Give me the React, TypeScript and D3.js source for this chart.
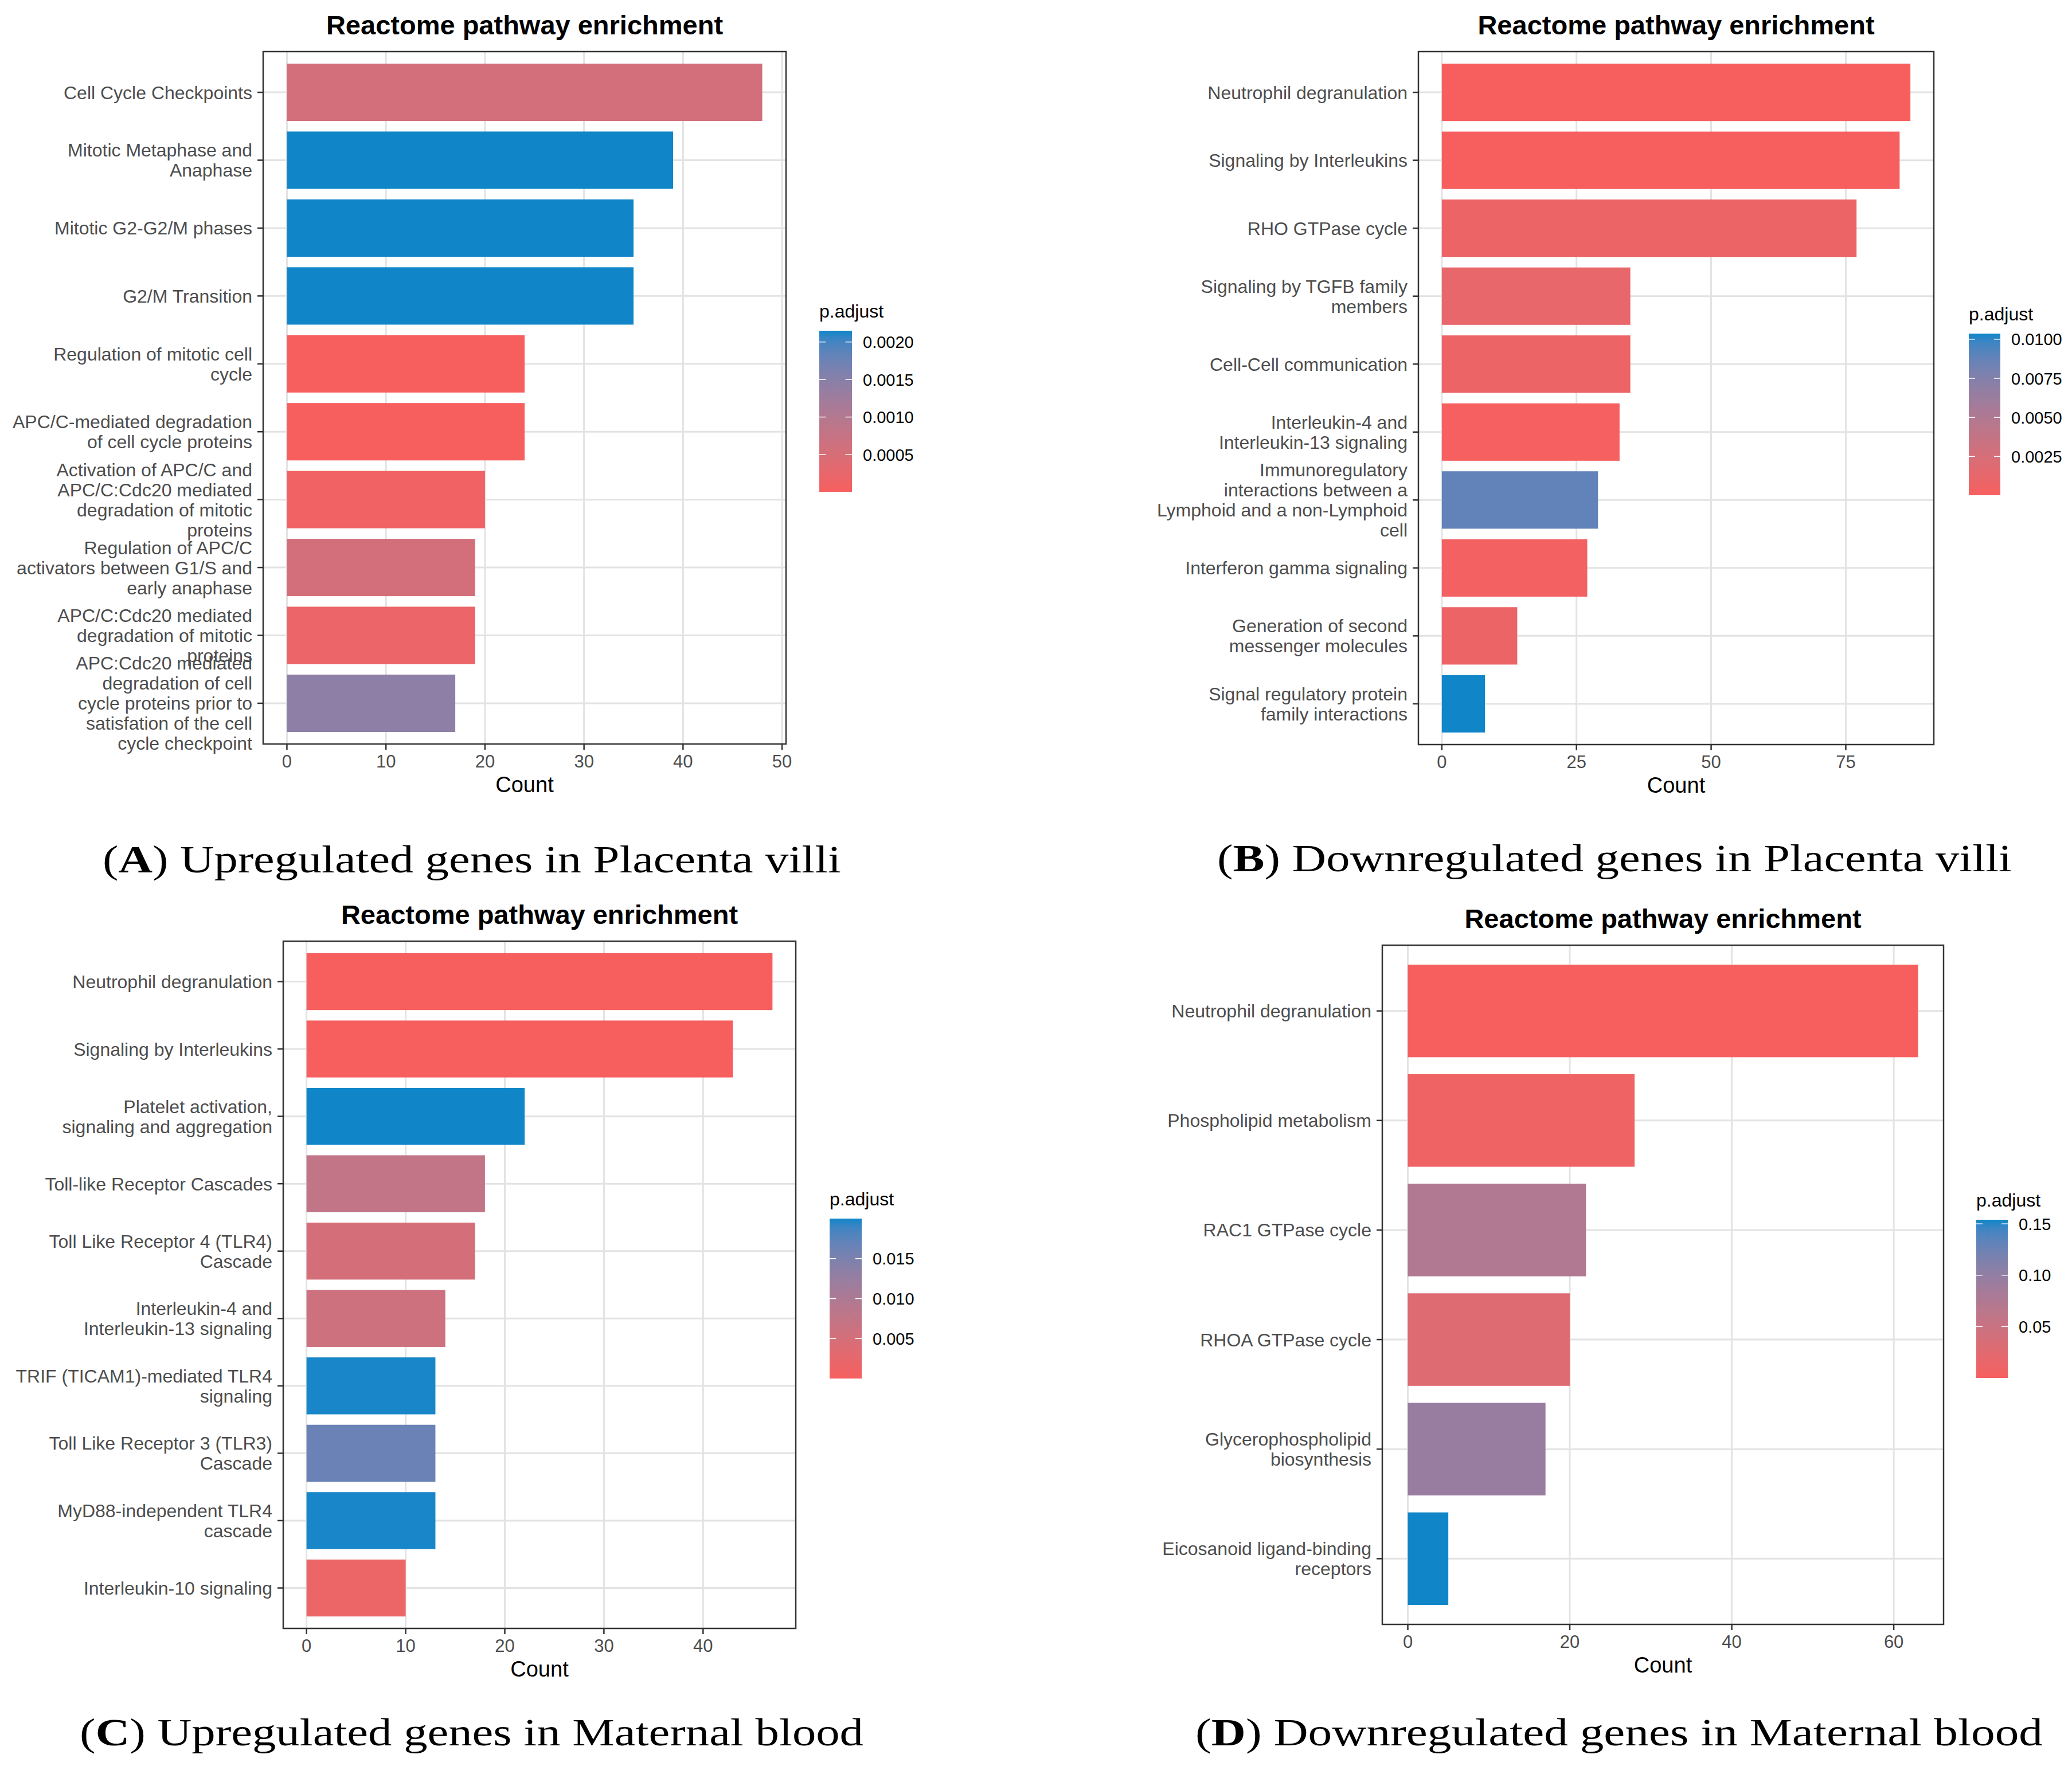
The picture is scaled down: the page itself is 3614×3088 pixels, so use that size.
import * as d3 from "d3";

// (A) Upregulated genes in Placenta villi
const aCategories = [
  "Cell Cycle Checkpoints",
  "Mitotic Metaphase and\nAnaphase",
  "Mitotic G2-G2/M phases",
  "G2/M Transition",
  "Regulation of mitotic cell\ncycle",
  "APC/C-mediated degradation\nof cell cycle proteins",
  "Activation of APC/C and\nAPC/C:Cdc20 mediated\ndegradation of mitotic\nproteins",
  "Regulation of APC/C\nactivators between G1/S and\nearly anaphase",
  "APC/C:Cdc20 mediated\ndegradation of mitotic\nproteins",
  "APC:Cdc20 mediated\ndegradation of cell\ncycle proteins prior to\nsatisfation of the cell\ncycle checkpoint",
];
const aCounts = [48, 39, 35, 35, 24, 24, 20, 19, 19, 17];
const aPadj = [0.00056, 0.00215, 0.00215, 0.00215, 0.000004, 0.00001, 0.0001, 0.00056, 0.0002, 0.00145];
const aXTicks = [0, 10, 20, 30, 40, 50];
const aLegendTicks = [0.0005, 0.001, 0.0015, 0.002];
const aLegendLabels = ["0.0005", "0.0010", "0.0015", "0.0020"];

// (B) Downregulated genes in Placenta villi
const bCategories = [
  "Neutrophil degranulation",
  "Signaling by Interleukins",
  "RHO GTPase cycle",
  "Signaling by TGFB family\nmembers",
  "Cell-Cell communication",
  "Interleukin-4 and\nInterleukin-13 signaling",
  "Immunoregulatory\ninteractions between a\nLymphoid and a non-Lymphoid\ncell",
  "Interferon gamma signaling",
  "Generation of second\nmessenger molecules",
  "Signal regulatory protein\nfamily interactions",
];
const bCounts = [87, 85, 77, 35, 35, 33, 29, 27, 14, 8];
const bPadj = [0.00002, 0.00003, 0.0008, 0.0012, 0.0008, 0.0001, 0.0088, 0.0003, 0.0008, 0.01036];
const bXTicks = [0, 25, 50, 75];
const bLegendTicks = [0.0025, 0.005, 0.0075, 0.01];
const bLegendLabels = ["0.0025", "0.0050", "0.0075", "0.0100"];

// (C) Upregulated genes in Maternal blood
const cCategories = [
  "Neutrophil degranulation",
  "Signaling by Interleukins",
  "Platelet activation,\nsignaling and aggregation",
  "Toll-like Receptor Cascades",
  "Toll Like Receptor 4 (TLR4)\nCascade",
  "Interleukin-4 and\nInterleukin-13 signaling",
  "TRIF (TICAM1)-mediated TLR4\nsignaling",
  "Toll Like Receptor 3 (TLR3)\nCascade",
  "MyD88-independent TLR4\ncascade",
  "Interleukin-10 signaling",
];
const cCounts = [47, 43, 22, 18, 17, 14, 13, 13, 13, 10];
const cPadj = [0.00001, 0.00002, 0.02, 0.0076, 0.005, 0.006, 0.0199, 0.0164, 0.0199, 0.0016];
const cXTicks = [0, 10, 20, 30, 40];
const cLegendTicks = [0.005, 0.01, 0.015];
const cLegendLabels = ["0.005", "0.010", "0.015"];

// (D) Downregulated genes in Maternal blood
const dCategories = [
  "Neutrophil degranulation",
  "Phospholipid metabolism",
  "RAC1 GTPase cycle",
  "RHOA GTPase cycle",
  "Glycerophospholipid\nbiosynthesis",
  "Eicosanoid ligand-binding\nreceptors",
];
const dCounts = [63, 28, 22, 20, 17, 5];
const dPadj = [0.0000001, 0.008, 0.074, 0.028, 0.095, 0.154];
const dXTicks = [0, 20, 40, 60];
const dLegendTicks = [0.05, 0.1, 0.15];
const dLegendLabels = ["0.05", "0.10", "0.15"];

const captions = [
  { letter: "A", text: " Upregulated genes in Placenta villi" },
  { letter: "B", text: " Downregulated genes in Placenta villi" },
  { letter: "C", text: " Upregulated genes in Maternal blood" },
  { letter: "D", text: " Downregulated genes in Maternal blood" },
];

const LOW = "#F75F5F";
const HIGH = "#1086C9";
const SANS = "'Liberation Sans', Arial, sans-serif";
const SERIF = "'Liberation Serif', 'DejaVu Serif', serif";

type Box = { x0: number; x1: number; y0: number; y1: number };
type Legend = { x: number; y: number; w: number; h: number };

type PanelProps = {
  id: string;
  categories: string[];
  counts: number[];
  padj: number[];
  xTicks: number[];
  legendTicks: number[];
  legendLabels: string[];
  box: Box;
  legend: Legend;
};

const Panel = ({
  id,
  categories,
  counts,
  padj,
  xTicks,
  legendTicks,
  legendLabels,
  box,
  legend,
}: PanelProps) => {
  const maxCount = d3.max(counts) ?? 1;
  const x = d3
    .scaleLinear()
    .domain([-0.05 * maxCount, 1.05 * maxCount])
    .range([box.x0, box.x1]);

  const y = d3
    .scaleBand()
    .domain(categories)
    .range([box.y0, box.y1])
    .paddingInner(0.155)
    .paddingOuter(0.1775);

  const [pMin, pMax] = d3.extent(padj) as [number, number];
  const color = d3
    .scaleLinear<string>()
    .domain([pMin, pMax])
    .range([LOW, HIGH])
    .interpolate(d3.interpolateLab);

  const ly = d3
    .scaleLinear()
    .domain([pMin, pMax])
    .range([legend.y + legend.h, legend.y]);

  const stops = d3.range(0, 1.0001, 0.05);
  const cx = (box.x0 + box.x1) / 2;

  return (
    <g>
      <defs>
        <linearGradient id={`grad-${id}`} x1="0" y1="1" x2="0" y2="0">
          {stops.map((t) => (
            <stop
              key={t}
              offset={t}
              stopColor={d3.interpolateLab(LOW, HIGH)(t)}
            />
          ))}
        </linearGradient>
      </defs>

      {/* grid */}
      {xTicks.map((t) => (
        <line
          key={`gx${t}`}
          x1={x(t)}
          x2={x(t)}
          y1={box.y0}
          y2={box.y1}
          stroke="#E3E3E3"
          strokeWidth={3}
        />
      ))}
      {categories.map((c) => {
        const yc = (y(c) ?? 0) + y.bandwidth() / 2;
        return (
          <line
            key={`gy${c}`}
            x1={box.x0}
            x2={box.x1}
            y1={yc}
            y2={yc}
            stroke="#E3E3E3"
            strokeWidth={3}
          />
        );
      })}

      {/* bars */}
      {categories.map((c, i) => (
        <rect
          key={`bar${c}`}
          x={x(0)}
          y={y(c)}
          width={x(counts[i]) - x(0)}
          height={y.bandwidth()}
          fill={color(padj[i])}
        />
      ))}

      <rect
        x={box.x0}
        y={box.y0}
        width={box.x1 - box.x0}
        height={box.y1 - box.y0}
        fill="none"
        stroke="#333333"
        strokeWidth={2.5}
      />

      {/* y axis */}
      {categories.map((c) => {
        const yc = (y(c) ?? 0) + y.bandwidth() / 2;
        const lines = c.split("\n");
        return (
          <g key={`yl${c}`}>
            <line
              x1={box.x0 - 10}
              x2={box.x0}
              y1={yc}
              y2={yc}
              stroke="#333333"
              strokeWidth={2.5}
            />
            <text
              textAnchor="end"
              fontSize={32}
              fill="#4D4D4D"
              fontFamily={SANS}
            >
              {lines.map((l, j) => (
                <tspan
                  key={j}
                  x={box.x0 - 19}
                  y={yc + (j - (lines.length - 1) / 2) * 35 + 11.5}
                >
                  {l}
                </tspan>
              ))}
            </text>
          </g>
        );
      })}

      {/* x axis */}
      {xTicks.map((t) => (
        <g key={`xt${t}`}>
          <line
            x1={x(t)}
            x2={x(t)}
            y1={box.y1}
            y2={box.y1 + 10}
            stroke="#333333"
            strokeWidth={2.5}
          />
          <text
            x={x(t)}
            y={box.y1 + 41}
            textAnchor="middle"
            fontSize={31}
            fill="#4D4D4D"
            fontFamily={SANS}
          >
            {t}
          </text>
        </g>
      ))}
      <text
        x={cx}
        y={box.y1 + 84}
        textAnchor="middle"
        fontSize={38}
        fill="#000"
        fontFamily={SANS}
      >
        Count
      </text>

      <text
        x={cx}
        y={box.y0 - 30}
        textAnchor="middle"
        fontSize={47}
        fontWeight="bold"
        fill="#000"
        fontFamily={SANS}
      >
        Reactome pathway enrichment
      </text>

      {/* legend */}
      <text
        x={legend.x}
        y={legend.y - 23}
        fontSize={32}
        fill="#000"
        fontFamily={SANS}
      >
        p.adjust
      </text>
      <rect
        x={legend.x}
        y={legend.y}
        width={legend.w}
        height={legend.h}
        fill={`url(#grad-${id})`}
      />
      {legendTicks.map((t, i) => (
        <g key={`lt${t}`}>
          <line
            x1={legend.x}
            x2={legend.x + legend.w / 5}
            y1={ly(t)}
            y2={ly(t)}
            stroke="#fff"
            strokeWidth={1.5}
          />
          <line
            x1={legend.x + legend.w - legend.w / 5}
            x2={legend.x + legend.w}
            y1={ly(t)}
            y2={ly(t)}
            stroke="#fff"
            strokeWidth={1.5}
          />
          <text
            x={legend.x + legend.w + 19}
            y={ly(t) + 10.5}
            fontSize={29}
            fill="#000"
            fontFamily={SANS}
          >
            {legendLabels[i]}
          </text>
        </g>
      ))}
    </g>
  );
};

const captionPos = [
  { x: 179, y: 1522, w: 1288 },
  { x: 2123, y: 1520, w: 1386 },
  { x: 139, y: 3045, w: 1367 },
  { x: 2085, y: 3045, w: 1478 },
];

const App = () => {
  return (
    <svg
      width={3614}
      height={3088}
      viewBox="0 0 3614 3088"
      style={{ position: "absolute", left: 0, top: 0, background: "#fff" }}
    >
      <rect width={3614} height={3088} fill="#fff" />
      <Panel
        id="a"
        categories={aCategories}
        counts={aCounts}
        padj={aPadj}
        xTicks={aXTicks}
        legendTicks={aLegendTicks}
        legendLabels={aLegendLabels}
        box={{ x0: 459, x1: 1371, y0: 90, y1: 1298 }}
        legend={{ x: 1429, y: 577, w: 57, h: 281 }}
      />
      <Panel
        id="b"
        categories={bCategories}
        counts={bCounts}
        padj={bPadj}
        xTicks={bXTicks}
        legendTicks={bLegendTicks}
        legendLabels={bLegendLabels}
        box={{ x0: 2474, x1: 3373, y0: 90, y1: 1299 }}
        legend={{ x: 3434, y: 582, w: 55, h: 282 }}
      />
      <Panel
        id="c"
        categories={cCategories}
        counts={cCounts}
        padj={cPadj}
        xTicks={cXTicks}
        legendTicks={cLegendTicks}
        legendLabels={cLegendLabels}
        box={{ x0: 494, x1: 1388, y0: 1642, y1: 2841 }}
        legend={{ x: 1447, y: 2126, w: 56, h: 279 }}
      />
      <Panel
        id="d"
        categories={dCategories}
        counts={dCounts}
        padj={dPadj}
        xTicks={dXTicks}
        legendTicks={dLegendTicks}
        legendLabels={dLegendLabels}
        box={{ x0: 2411, x1: 3390, y0: 1649, y1: 2834 }}
        legend={{ x: 3447, y: 2128, w: 55, h: 276 }}
      />

      {captions.map((c, i) => (
        <text
          key={c.letter}
          x={captionPos[i].x}
          y={captionPos[i].y}
          fontSize={68}
          fill="#000"
          fontFamily={SERIF}
          textLength={captionPos[i].w}
          lengthAdjust="spacingAndGlyphs"
        >
          (<tspan fontWeight="bold">{c.letter}</tspan>){c.text}
        </text>
      ))}
    </svg>
  );
};

export default App;
